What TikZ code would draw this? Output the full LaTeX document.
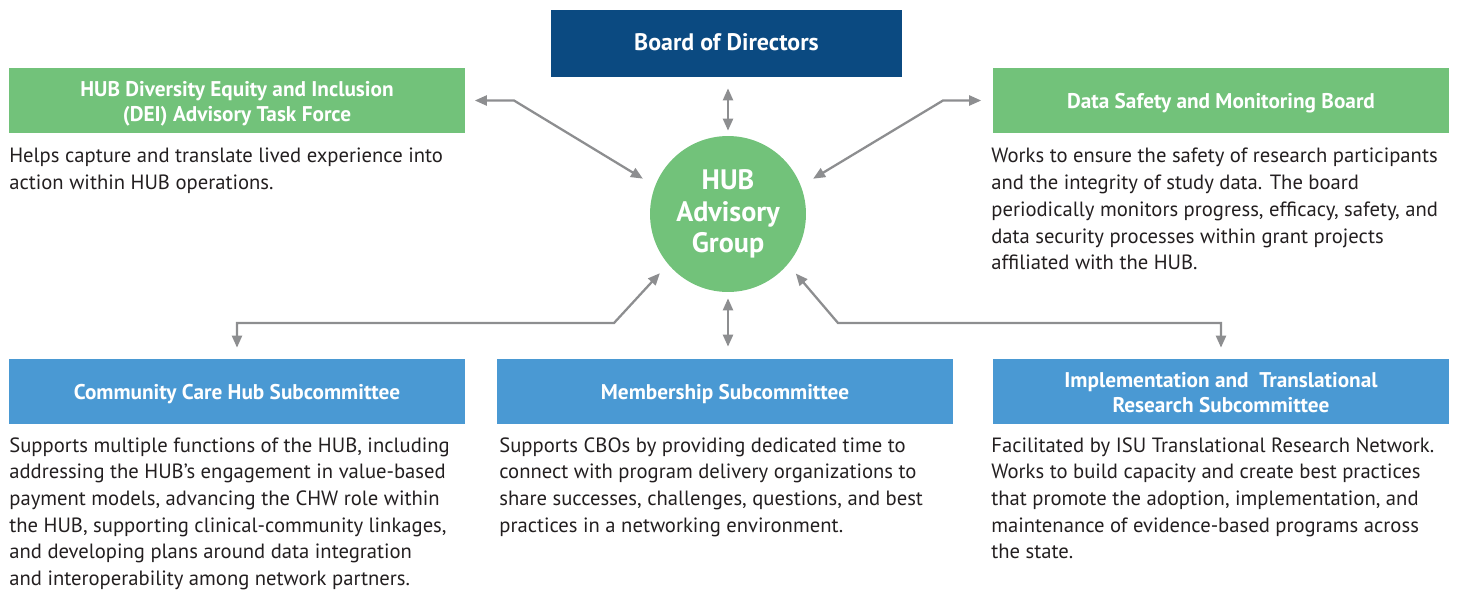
\documentclass[tikz,border=0pt]{standalone}
\usepackage{fontspec}
\setmainfont{PT Sans}
\usetikzlibrary{arrows.meta}

\definecolor{hubgreen}{HTML}{72C27A}
\definecolor{hubblue}{HTML}{4A99D3}
\definecolor{boardblue}{HTML}{0B4A81}
\definecolor{linkgray}{HTML}{8D8E90}
\definecolor{bodytext}{HTML}{231F20}

\newcommand{\titlestrut}{\rule[-3.4pt]{0pt}{16.4pt}}
\newcommand{\titletop}{\rule{0pt}{13pt}}
\newcommand{\titlebot}{\rule[-3.4pt]{0pt}{3.4pt}}
\newcommand{\boardstrut}{\rule[-2pt]{0pt}{2pt}}

\tikzset{
  titlebox/.style={rectangle, inner sep=0pt, minimum width=9.14cm, minimum height=1.3cm,
    text=white, align=center, font=\bfseries\fontsize{12.1}{14.2}\selectfont},
  blurb/.style={anchor=north west, inner sep=0pt, text=bodytext, align=left,
    font=\fontsize{11.75}{15.2}\selectfont},
  link/.style={draw=linkgray, line width=1.3pt, {Triangle[length=0.24cm,width=0.2cm]}-{Triangle[length=0.24cm,width=0.2cm]}}
}

\begin{document}
\begin{tikzpicture}[x=0.02cm, y=-0.02cm]
\useasboundingbox (0,0) rectangle (1457,593);

% top row
 \node[titlebox, fill=boardblue, minimum width=7.02cm, minimum height=1.34cm,
   font=\bfseries\fontsize{13.6}{15}\selectfont] (board) at (726.5,43.5) {\boardstrut Board of Directors};
  \node[titlebox, fill=hubgreen] (dei) at (237,100.5) {\titletop HUB Diversity Equity and Inclusion\\\titlebot(DEI) Advisory Task Force};
   \node[titlebox, fill=hubgreen] (dsmb) at (1221,100.5) {\titlestrut Data Safety and Monitoring Board};

 \node[blurb] (deitxt) at (9,148) {Helps capture and translate lived experience into\\action within HUB operations.};
 \node[blurb] (dsmbtxt) at (991,148) {Works to ensure the safety of research participants\\and the integrity of study data. The board\\periodically monitors progress, efficacy, safety, and\\data security processes within grant projects\\affiliated with the HUB.};

% centre
 \node[circle, fill=hubgreen, minimum size=3.12cm, inner sep=0pt, text=white, align=center,
   font=\bfseries\fontsize{16}{17.9}\selectfont] (hub) at (728,214) {HUB\\Advisory\\Group};

% bottom row
 \node[titlebox, fill=hubblue] (ccare) at (237,391.5) {\titlestrut Community Care Hub Subcommittee};
  \node[titlebox, fill=hubblue] (member) at (725,391.5) {\titlestrut Membership Subcommittee};
   \node[titlebox, fill=hubblue] (impl) at (1221,391.5) {\titletop Implementation and~ Translational\\\titlebot Research Subcommittee};

 \node[blurb] (ccaretxt) at (9,437) {Supports multiple functions of the HUB, including\\addressing the HUB's engagement in value-based\\payment models, advancing the CHW role within\\the HUB, supporting clinical-community linkages,\\and developing plans around data integration\\and interoperability among network partners.};
 \node[blurb] (membertxt) at (499,437) {Supports CBOs by providing dedicated time to\\connect with program delivery organizations to\\share successes, challenges, questions, and best\\practices in a networking environment.};
 \node[blurb] (impltxt) at (991,437) {Facilitated by ISU Translational Research Network.\\Works to build capacity and create best practices\\that promote the adoption, implementation, and\\maintenance of evidence-based programs across\\the state.};

% bends
 \coordinate (k1) at (514,100.5);
 \coordinate (k2) at (943,100.5);
 \coordinate (k3) at (614,323);
 \coordinate (k4) at (838,323);

 \draw[link, shorten <=0.22cm, shorten >=0.1cm] (board.south -| hub.north) -- (hub.north);
 \draw[link, shorten <=0.18cm, shorten >=0.28cm] (dei.east) -- (k1) -- (hub.159);
 \draw[link, shorten <=0.22cm, shorten >=0.28cm] (dsmb.west) -- (k2) -- (hub.21);
 \draw[link, shorten <=0.24cm, shorten >=0.22cm] (hub.220) -- (k3) -- (k3 -| ccare.north) -- (ccare.north);
 \draw[link, shorten <=0.12cm, shorten >=0.24cm] (hub.south) -- (hub.south |- member.north);
 \draw[link, shorten <=0.24cm, shorten >=0.22cm] (hub.320) -- (k4) -- (k4 -| impl.north) -- (impl.north);

\end{tikzpicture}
\end{document}
